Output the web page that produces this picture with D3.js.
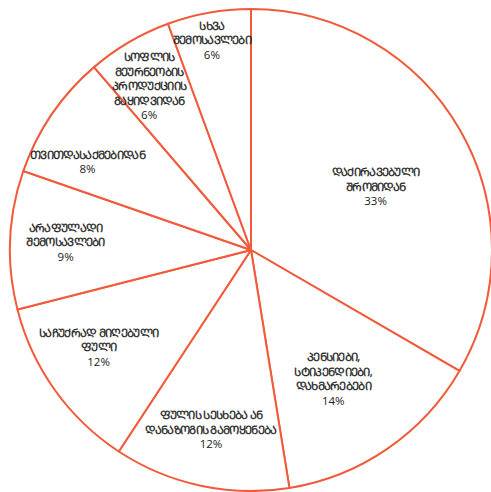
<!DOCTYPE html>
<html><head><meta charset="utf-8">
<script src="https://cdn.jsdelivr.net/npm/d3@7"></script>
<style>html,body{margin:0;padding:0;background:#fff;}</style>
</head><body>
<svg id="c" width="491" height="492"></svg>
<script>
const categories = [
  ["ᲓᲐᲥᲘᲠᲐᲕᲔᲑᲣᲚᲘ", "ᲨᲠᲝᲛᲘᲓᲐᲜ"],
  ["ᲞᲔᲜᲡᲘᲔᲑᲘ,", "ᲡᲢᲘᲞᲔᲜᲓᲘᲔᲑᲘ,", "ᲓᲐᲮᲛᲐᲠᲔᲑᲔᲑᲘ"],
  ["ᲤᲣᲚᲘᲡ ᲡᲔᲡᲮᲔᲑᲐ ᲐᲜ", "ᲓᲐᲜᲐᲖᲝᲒᲘᲡ ᲒᲐᲛᲝᲧᲔᲜᲔᲑᲐ"],
  ["ᲡᲐᲩᲣᲥᲠᲐᲓ ᲛᲘᲦᲔᲑᲣᲚᲘ", "ᲤᲣᲚᲘ"],
  ["ᲐᲠᲐᲤᲣᲚᲐᲓᲘ", "ᲨᲔᲛᲝᲡᲐᲕᲚᲔᲑᲘ"],
  ["ᲗᲕᲘᲗᲓᲐᲡᲐᲥᲛᲔᲑᲘᲓᲐᲜ"],
  ["ᲡᲝᲤᲚᲘᲡ", "ᲛᲔᲣᲠᲜᲔᲝᲑᲘᲡ", "ᲞᲠᲝᲓᲣᲥᲪᲘᲘᲡ", "ᲒᲐᲧᲘᲓᲕᲘᲓᲐᲜ"],
  ["ᲡᲮᲕᲐ", "ᲨᲔᲛᲝᲡᲐᲕᲚᲔᲑᲘ"]
];
const values = [33.4, 14.1, 11.8, 11.8, 9.3, 8.4, 5.7, 5.6];
const percentLabels = ["33%", "14%", "12%", "12%", "9%", "8%", "6%", "6%"];

// label placement (radius fraction, angle tweak in degrees)
const labelRadius = [0.58, 0.635, 0.765, 0.75, 0.77, 0.77, 0.8, 0.885];
const labelAngleTweak = [3, 2, 0.5, 3, 0, -6, -1.5, -0.5];

const cx = 251, cy = 250, R = 241;
const color = "#f15a3b";
const svg = d3.select("#c");
const g = svg.append("g").attr("transform", `translate(${cx},${cy})`);
const pie = d3.pie().sort(null).value(d => d);
const arcs = pie(values);
const arc = d3.arc().innerRadius(0).outerRadius(R);

g.selectAll("path").data(arcs).join("path")
  .attr("d", arc)
  .attr("fill", "#fff")
  .attr("stroke", color)
  .attr("stroke-width", 2)
  .attr("stroke-linejoin", "round");

const lh = 14.5;
arcs.forEach((a, i) => {
  const ang = (a.startAngle + a.endAngle) / 2 + labelAngleTweak[i] * Math.PI / 180;
  const r = R * labelRadius[i];
  const x = r * Math.sin(ang), y = -r * Math.cos(ang);
  const lines = categories[i].concat([percentLabels[i]]);
  const n = lines.length;
  const t = g.append("text")
    .attr("text-anchor", "middle")
    .attr("font-family", "'Open Sans', 'DejaVu Sans', sans-serif")
    .attr("font-size", 11.5)
    .attr("fill", "#222");
  lines.forEach((ln, k) => {
    const isCat = k < n - 1;
    t.append("tspan")
      .attr("x", x)
      .attr("y", y + (k - (n - 1) / 2) * lh + 4)
      .attr("letter-spacing", isCat ? -0.7 : 0)
      .attr("stroke", isCat ? "#222" : "none")
      .attr("stroke-width", isCat ? 0.25 : 0)
      .text(ln);
  });
});
</script>
</body></html>
